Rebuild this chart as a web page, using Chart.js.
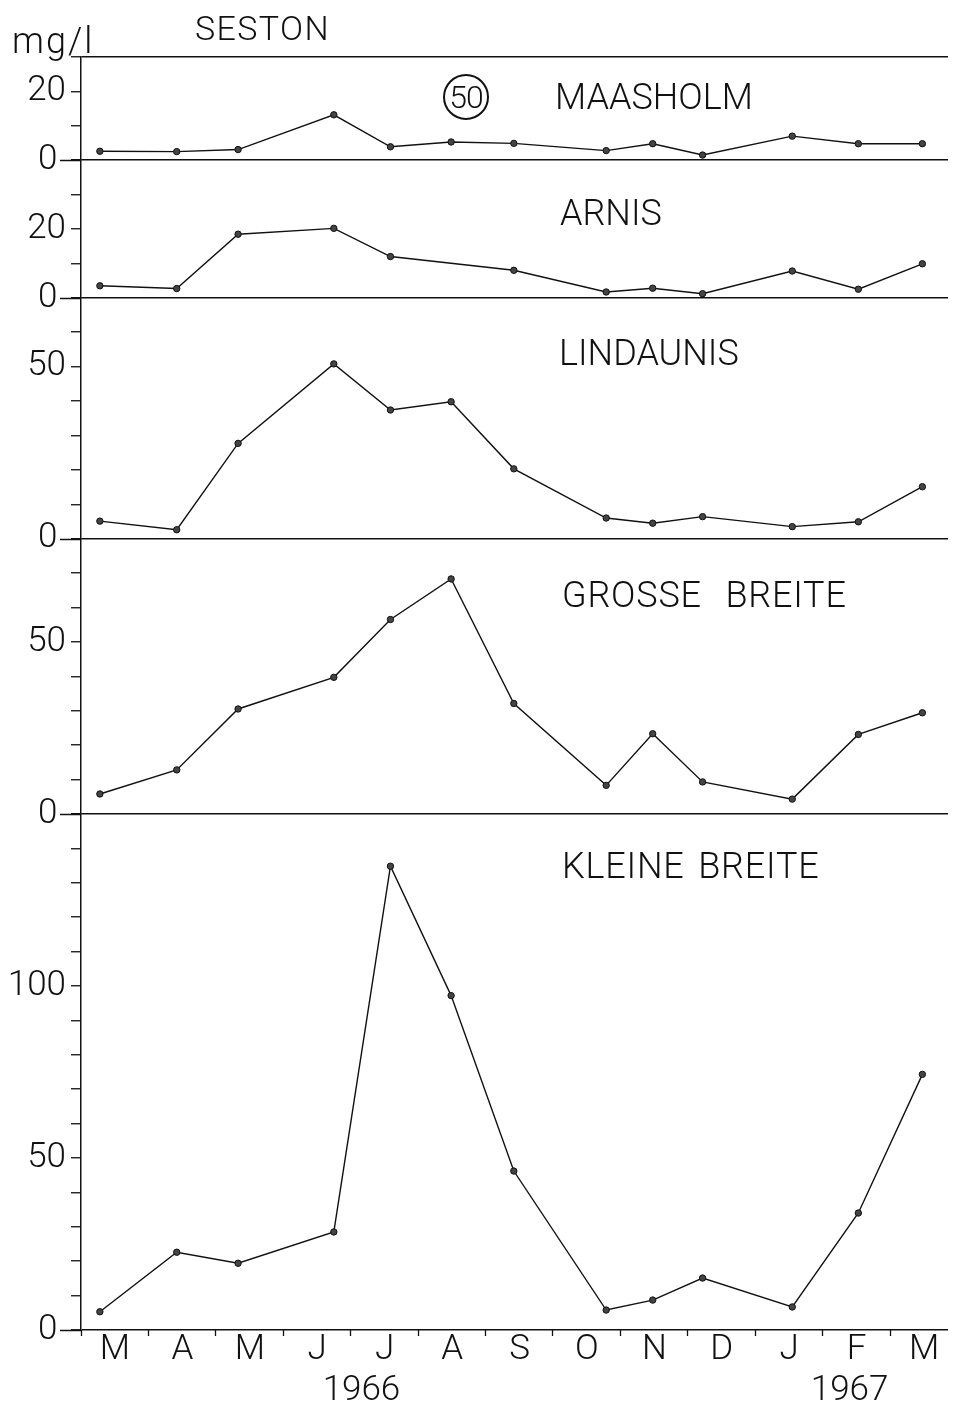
<!DOCTYPE html>
<html>
<head>
<meta charset="utf-8">
<title>Seston 1966-1967</title>
<script src="https://cdn.jsdelivr.net/npm/chart.js@4.4.1/dist/chart.umd.min.js"></script>
<style>
  html, body { margin: 0; padding: 0; background: #fff; }
  #wrap { position: relative; width: 953px; height: 1407px; }
  #wrap canvas { position: absolute; left: 0; top: 0; }
  .lbl {
    position: absolute;
    font-family: Roboto, "DejaVu Sans", sans-serif;
    font-weight: 300;
    line-height: 1;
    color: #111;
    white-space: nowrap;
  }
  .station { font-size: 36px; }
  .circled {
    position: absolute; left: 443px; top: 74px; width: 42px; height: 42px;
    border: 2px solid #111; border-radius: 50%;
    display: flex; align-items: center; justify-content: center;
    font-family: Roboto, "DejaVu Sans", sans-serif; font-weight: 300;
    font-size: 32px; letter-spacing: -1px; line-height: 1; color: #111;
  }
</style>
</head>
<body>
<div id="wrap">
  <canvas id="sestonChart" width="953" height="1407"></canvas>
  <div class="lbl" style="left:195px; top:11px; font-size:34px; letter-spacing:1.4px;">SESTON</div>
  <div class="lbl" style="left:12px; top:23px; font-size:36px; letter-spacing:2px;">mg/l</div>
  <div class="circled">50</div>
  <div class="lbl station" style="left:555px; top:79px;">MAASHOLM</div>
  <div class="lbl station" style="left:560px; top:195px;">ARNIS</div>
  <div class="lbl station" style="left:559px; top:335px;">LINDAUNIS</div>
  <div class="lbl station" style="left:562px; top:577px; letter-spacing:0.8px; word-spacing:14px;">GROSSE BREITE</div>
  <div class="lbl station" style="left:562px; top:848px; letter-spacing:0.8px; word-spacing:4px;">KLEINE BREITE</div>
</div>

<script>
// x = Monate seit dem 1. Marz 1966
const monthStarts = [0, 1, 2, 3, 4, 5, 6, 7, 8, 9, 10, 11, 12]
const monthLabels = ["M", "A", "M", "J", "J", "A", "S", "O", "N", "D", "J", "F", "M"]
const yearPositions = [4.16, 11.4]
const yearLabels = ["1966", "1967"]
const X_MAX = 12.86

// Probenahmetermine
const sampleMonths = [0.28, 1.42, 2.33, 3.75, 4.59, 5.49, 6.42, 7.79, 8.48, 9.22, 10.55, 11.53, 12.48]

// Seston mg/l
const maasholm = [2.6, 2.5, 3.1, 13.2, 3.9, 5.3, 4.9, 2.8, 4.8, 1.5, 7.0, 4.8, 4.8]
const arnis = [3.5, 2.7, 18.5, 20.2, 12.0, null, 8.0, 1.7, 2.8, 1.2, 7.8, 2.5, 9.9]
const lindaunis = [5.1, 2.6, 27.7, 50.8, 37.4, 39.8, 20.3, 6.0, 4.5, 6.4, 3.5, 4.9, 15.1]
const grosseBreite = [5.8, 12.8, 30.5, 39.7, 56.5, 68.3, 32.1, 8.3, 23.3, 9.3, 4.3, 23.1, 29.4]
const kleineBreite = [5.3, 22.6, 19.4, 28.5, 134.8, 97.2, 46.2, 5.8, 8.7, 15.1, 6.7, 34.0, 74.3]

// Achsenbereiche und beschriftete Werte je Station
const panelMax = { yMaasholm: 30, yArnis: 40, yLindaunis: 70, yGrosse: 80, yKleine: 150 }
const panelLabels = {
  yMaasholm: [0, 20],
  yArnis: [0, 20],
  yLindaunis: [0, 50],
  yGrosse: [0, 50],
  yKleine: [0, 50, 100],
}

const AXIS_WIDTH = 81
const INK = "#111"
const tickFont = { family: "Roboto, 'DejaVu Sans', sans-serif", size: 35, weight: 300 }

function toPoints(values) {
  return values.map((v, i) => ({ x: sampleMonths[i], y: v }))
}

function panelAxis(id, topLine) {
  const max = panelMax[id]
  const labelled = panelLabels[id]
  return {
    type: "linear",
    position: "left",
    stack: "panels",
    stackWeight: max,
    min: 0,
    max: max,
    afterFit: (scale) => {
      scale.width = AXIS_WIDTH
    },
    ticks: {
      stepSize: 10,
      autoSkip: false,
      padding: 5,
      color: INK,
      font: tickFont,
      // "0 " ruckt die Null etwas nach links, wie im Original
      callback: (v) => (v === 0 ? "0 " : labelled.includes(v) ? String(v) : ""),
    },
    grid: {
      drawOnChartArea: true,
      color: (ctx) => {
        const v = ctx.tick ? ctx.tick.value : null
        return v === 0 || (topLine && v === max) ? INK : "rgba(0,0,0,0)"
      },
      lineWidth: 1.5,
      tickLength: 10,
      tickColor: INK,
      tickWidth: 1.3,
    },
    border: { display: true, color: INK, width: 1.5 },
  }
}

function seriesStyle(label, data, axisId) {
  return {
    label: label,
    data: toPoints(data),
    yAxisID: axisId,
    borderColor: INK,
    borderWidth: 1.4,
    pointRadius: 3.2,
    pointBackgroundColor: "#444",
    pointBorderColor: INK,
    pointBorderWidth: 1,
    spanGaps: true,
    tension: 0,
  }
}

// verlangert die Nullinien nach links uber die Achse hinaus
const zeroStubs = {
  id: "zeroStubs",
  afterDraw(chart) {
    const ctx = chart.ctx
    ctx.save()
    ctx.strokeStyle = INK
    ctx.lineWidth = 1.5
    Object.keys(panelMax).forEach((id) => {
      const s = chart.scales[id]
      const y = Math.round(s.getPixelForValue(0)) + 0.5
      ctx.beginPath()
      ctx.moveTo(s.right - 21, y)
      ctx.lineTo(s.right, y)
      ctx.stroke()
    })
    ctx.restore()
  },
}

document.addEventListener("DOMContentLoaded", () => {
  const ctx = document.getElementById("sestonChart")

  new Chart(ctx, {
    type: "line",
    data: {
      datasets: [
        seriesStyle("Maasholm", maasholm, "yMaasholm"),
        seriesStyle("Arnis", arnis, "yArnis"),
        seriesStyle("Lindaunis", lindaunis, "yLindaunis"),
        seriesStyle("Grosse Breite", grosseBreite, "yGrosse"),
        seriesStyle("Kleine Breite", kleineBreite, "yKleine"),
      ],
    },
    options: {
      responsive: false,
      animation: false,
      events: [],
      layout: { padding: { top: 57, right: 0, bottom: 0, left: 0 } },
      plugins: {
        legend: { display: false },
        tooltip: { enabled: false },
      },
      scales: {
        x: {
          type: "linear",
          position: "bottom",
          min: 0,
          max: X_MAX,
          afterBuildTicks: (scale) => {
            scale.ticks = monthStarts.map((v) => ({ value: v }))
          },
          afterFit: (scale) => {
            scale.height = 42
          },
          ticks: {
            autoSkip: false,
            maxRotation: 0,
            labelOffset: 34,
            padding: 0,
            color: INK,
            font: { ...tickFont, lineHeight: 0.8 },
            callback: (v, i) => monthLabels[i],
          },
          grid: {
            drawOnChartArea: false,
            drawTicks: true,
            tickLength: 6,
            color: INK,
            tickColor: INK,
            tickWidth: 1.3,
          },
          border: { display: false },
        },
        x2: {
          type: "linear",
          position: "bottom",
          min: 0,
          max: X_MAX,
          afterBuildTicks: (scale) => {
            scale.ticks = yearPositions.map((v) => ({ value: v }))
          },
          afterFit: (scale) => {
            scale.height = 35
          },
          ticks: {
            autoSkip: false,
            maxRotation: 0,
            padding: -3,
            color: INK,
            font: { ...tickFont, lineHeight: 0.8 },
            callback: (v, i) => yearLabels[i],
          },
          grid: { display: false },
          border: { display: false },
        },
        // von unten nach oben: die zuletzt definierte Achse liegt oben
        yKleine: panelAxis("yKleine", false),
        yGrosse: panelAxis("yGrosse", false),
        yLindaunis: panelAxis("yLindaunis", false),
        yArnis: panelAxis("yArnis", false),
        yMaasholm: panelAxis("yMaasholm", true),
      },
    },
    plugins: [zeroStubs],
  })
})
</script>
</body>
</html>
